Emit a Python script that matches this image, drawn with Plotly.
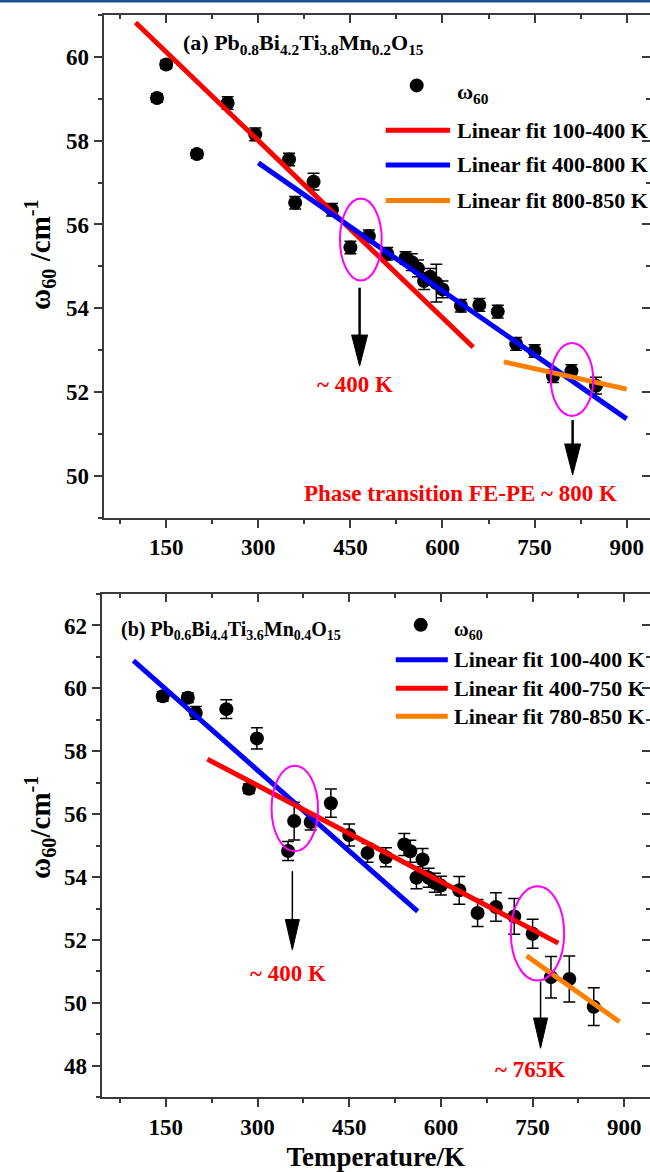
import plotly.graph_objects as go

# ---------------- data: panel (a) ----------------
temp_a = [135, 150, 200, 250, 295, 350, 360, 390, 420, 450, 480, 510, 540, 550, 560, 570,
          580, 590, 600, 630, 660, 690, 720, 750, 780, 810, 850]
omega_a = [59.02, 59.82, 57.68, 58.90, 58.15, 57.55, 56.52, 57.02, 56.35, 55.45, 55.72, 55.30,
           55.20, 55.10, 54.95, 54.65, 54.75, 54.60, 54.45, 54.06, 54.08, 53.92, 53.15, 52.98,
           52.38, 52.50, 52.15]
err_a = [0.1, 0.1, 0.1, 0.15, 0.15, 0.15, 0.15, 0.2, 0.15, 0.15, 0.15, 0.15, 0.15, 0.2, 0.2, 0.2,
         0.2, 0.45, 0.2, 0.15, 0.15, 0.15, 0.15, 0.15, 0.15, 0.15, 0.2]
fit_a_100_400_T = [100, 650]
fit_a_100_400_W = [60.82, 53.07]
fit_a_400_800_T = [300, 900]
fit_a_400_800_W = [57.47, 51.36]
fit_a_800_850_T = [700, 900]
fit_a_800_850_W = [52.72, 52.07]

# ---------------- data: panel (b) ----------------
temp_b = [145, 186, 199, 249, 286, 299, 350, 360, 387, 420, 450, 480, 510, 540, 550, 560, 570,
          580, 590, 600, 630, 660, 690, 720, 750, 780, 810, 850]
omega_b = [59.75, 59.70, 59.22, 59.34, 56.81, 58.41, 54.83, 55.78, 55.75, 56.35, 55.34, 54.77,
           54.63, 55.04, 54.82, 53.98, 54.56, 53.98, 53.82, 53.73, 53.58, 52.86, 53.05, 52.75,
           52.20, 50.82, 50.76, 49.88]
err_b = [0.15, 0.15, 0.2, 0.3, 0.15, 0.34, 0.3, 0.6, 0.25, 0.45, 0.35, 0.3, 0.3, 0.35, 0.35, 0.35,
         0.35, 0.3, 0.3, 0.3, 0.44, 0.43, 0.45, 0.57, 0.46, 0.66, 0.73, 0.6]
fit_b_100_400_T = [97, 562]
fit_b_100_400_W = [60.88, 52.91]
fit_b_400_750_T = [218, 792]
fit_b_400_750_W = [57.75, 51.90]
fit_b_780_850_T = [740, 892]
fit_b_780_850_W = [51.50, 49.40]

x_ticks = [150, 300, 450, 600, 750, 900]
y_ticks_a = [50, 52, 54, 56, 58, 60]
y_ticks_b = [48, 50, 52, 54, 56, 58, 60, 62]

RED = "#ff0000"
BLUE = "#0000ff"
ORANGE = "#ff8000"
MAG = "#ff00ff"
AX = "#3a3a3a"
FONT = "Liberation Serif"

W, H = 650, 1172

fig = go.Figure()

def add_panel(T, Wv, E, xa, ya, fits):
    fig.add_trace(go.Scatter(
        x=T, y=Wv, mode="markers", xaxis=xa, yaxis=ya, showlegend=False,
        marker=dict(color="black", size=14),
        error_y=dict(type="data", array=E, color="black", thickness=1.5, width=6)))
    for fx, fy, col in fits:
        fig.add_trace(go.Scatter(
            x=fx, y=fy, mode="lines", xaxis=xa, yaxis=ya, showlegend=False,
            line=dict(color=col, width=5)))

add_panel(temp_a, omega_a, err_a, "x", "y",
          [(fit_a_100_400_T, fit_a_100_400_W, RED),
           (fit_a_400_800_T, fit_a_400_800_W, BLUE),
           (fit_a_800_850_T, fit_a_800_850_W, ORANGE)])
add_panel(temp_b, omega_b, err_b, "x2", "y2",
          [(fit_b_100_400_T, fit_b_100_400_W, BLUE),
           (fit_b_400_750_T, fit_b_400_750_W, RED),
           (fit_b_780_850_T, fit_b_780_850_W, ORANGE)])

# pixel geometry of the two panels
dom_a_x = [103.6 / W, 1.0]
dom_a_y = [1 - 517.7 / H, 1 - 15 / H]
dom_b_x = [101.6 / W, 1.0]
dom_b_y = [1 - 1097.3 / H, 1 - 594 / H]
rng_a_x = [48, 938]
rng_a_y = [49, 61]
rng_b_x = [45, 942]
rng_b_y = [47, 63]

def xax(dom, rng, anchor, labels=True, side="bottom", ticks="outside", overlay=None):
    d = dict(domain=dom, range=rng, anchor=anchor, side=side,
             tickmode="array", tickvals=x_ticks, showticklabels=labels,
             ticks=ticks, ticklen=8, tickwidth=1.5, tickcolor=AX,
             showline=True, linecolor=AX, linewidth=2, showgrid=False, zeroline=False,
             minor=dict(tickmode="linear", tick0=0, dtick=75, ticks=ticks, ticklen=4,
                        tickwidth=1.5, tickcolor=AX, showgrid=False),
             tickfont=dict(size=23, color="black"), fixedrange=True)
    if overlay:
        d["overlaying"] = overlay
    return d

def yax(dom, rng, anchor, tv, labels=True, side="left", ticks="outside", overlay=None):
    d = dict(domain=dom, range=rng, anchor=anchor, side=side,
             tickmode="array", tickvals=tv, showticklabels=labels,
             ticks=ticks, ticklen=8, tickwidth=1.5, tickcolor=AX,
             showline=True, linecolor=AX, linewidth=2, showgrid=False, zeroline=False,
             minor=dict(tickmode="linear", tick0=0, dtick=1, ticks=ticks, ticklen=4,
                        tickwidth=1.5, tickcolor=AX, showgrid=False),
             tickfont=dict(size=23, color="black"), fixedrange=True)
    if overlay:
        d["overlaying"] = overlay
    return d

fig.update_layout(
    width=W, height=H, margin=dict(l=0, r=0, t=0, b=0),
    paper_bgcolor="white", plot_bgcolor="white", showlegend=False,
    font=dict(family=FONT, color="black", size=22, weight="bold"),
    xaxis=xax(dom_a_x, rng_a_x, "y"),
    yaxis=yax(dom_a_y, rng_a_y, "x", y_ticks_a),
    xaxis2=xax(dom_b_x, rng_b_x, "y2"),
    yaxis2=yax(dom_b_y, rng_b_y, "x2", y_ticks_b),
    xaxis3=xax(dom_a_x, rng_a_x, "y", labels=False, side="top", ticks="inside", overlay="x"),
    yaxis3=yax(dom_a_y, rng_a_y, "x", y_ticks_a, labels=False, side="right", ticks="inside", overlay="y"),
    xaxis4=xax(dom_b_x, rng_b_x, "y2", labels=False, side="top", ticks="inside", overlay="x2"),
    yaxis4=yax(dom_b_y, rng_b_y, "x2", y_ticks_b, labels=False, side="right", ticks="inside", overlay="y2"),
)
fig.layout.xaxis2.title = dict(text="Temperature/K", font=dict(size=27), standoff=8)

# invisible anchors so the mirrored frame axes are drawn
fig.add_trace(go.Scatter(x=[None], y=[None], xaxis="x3", yaxis="y3", showlegend=False, hoverinfo="skip"))
fig.add_trace(go.Scatter(x=[None], y=[None], xaxis="x4", yaxis="y4", showlegend=False, hoverinfo="skip"))

shapes = []
annots = []

def ellipse(xr, yr, cx, cy, hx, hy):
    shapes.append(dict(type="circle", xref=xr, yref=yr, x0=cx - hx, x1=cx + hx,
                       y0=cy - hy, y1=cy + hy, line=dict(color=MAG, width=2), layer="above"))

def arrow(xr, yr, x, y0, ytip, head_len, half_w, lw):
    base = ytip + head_len
    shapes.append(dict(type="line", xref=xr, yref=yr, x0=x, x1=x, y0=y0, y1=base,
                       line=dict(color="black", width=lw), layer="above"))
    shapes.append(dict(type="path", xref=xr, yref=yr,
                       path=f"M {x - half_w},{base} L {x + half_w},{base} L {x},{ytip} Z",
                       fillcolor="black", line=dict(color="black", width=1), layer="above"))

def text(xr, yr, x, y, s, size, color="black", xanchor="center"):
    annots.append(dict(xref=xr, yref=yr, x=x, y=y, text=s, showarrow=False,
                       xanchor=xanchor, yanchor="middle",
                       font=dict(size=size, color=color, family=FONT, weight="bold")))

def leg_line(xr, yr, x0, x1, y, col):
    shapes.append(dict(type="line", xref=xr, yref=yr, x0=x0, x1=x1, y0=y, y1=y,
                       line=dict(color=col, width=5), layer="above"))

def leg_dot(xr, yr, x, y):
    shapes.append(dict(type="circle", xref=xr, yref=yr, xsizemode="pixel", ysizemode="pixel",
                       xanchor=x, yanchor=y, x0=-7, x1=7, y0=-7, y1=7,
                       fillcolor="black", line=dict(color="black", width=0), layer="above"))

# ---- panel (a) decorations ----
ellipse("x", "y", 467, 55.64, 34, 0.98)
ellipse("x", "y", 811, 52.30, 34.5, 0.87)
arrow("x", "y", 465, 54.49, 52.62, 0.74, 13, 2.5)
arrow("x", "y", 812, 51.33, 50.02, 0.74, 13, 2.5)
text("x", "y", 457, 52.17, "~ 400 K", 23, RED)
text("x", "y", 630, 49.58, "Phase transition FE-PE ~ 800 K", 23, RED)
text("x", "y", 174, 60.3,
     "(a) Pb<sub>0.8</sub>Bi<sub>4.2</sub>Ti<sub>3.8</sub>Mn<sub>0.2</sub>O<sub>15</sub>",
     22, xanchor="left")
leg_dot("x", "y", 558, 59.32)
text("x", "y", 620.5, 59.15, "ω<sub>60</sub>", 22, xanchor="left")
leg_line("x", "y", 507.5, 612.3, 58.25, RED)
leg_line("x", "y", 507.5, 612.3, 57.42, BLUE)
leg_line("x", "y", 507.5, 612.3, 56.57, ORANGE)
text("x", "y", 620.5, 58.25, "Linear fit 100-400 K", 22, xanchor="left")
text("x", "y", 620.5, 57.42, "Linear fit 400-800 K", 22, xanchor="left")
text("x", "y", 620.5, 56.57, "Linear fit 800-850 K", 22, xanchor="left")

# ---- panel (b) decorations ----
ellipse("x2", "y2", 361, 56.18, 38, 1.36)
ellipse("x2", "y2", 758, 52.21, 43.6, 1.5)
arrow("x2", "y2", 357, 54.19, 51.69, 0.96, 11.5, 1.5)
arrow("x2", "y2", 763, 50.68, 48.56, 0.96, 11.5, 1.5)
text("x2", "y2", 350, 50.95, "~ 400 K", 23, RED)
text("x2", "y2", 746, 47.89, "~ 765K", 23, RED)
text("x2", "y2", 74, 61.85,
     "(b) Pb<sub>0.6</sub>Bi<sub>4.4</sub>Ti<sub>3.6</sub>Mn<sub>0.4</sub>O<sub>15</sub>",
     20, xanchor="left")
leg_dot("x2", "y2", 567, 62.02)
text("x2", "y2", 618, 61.85, "ω<sub>60</sub>", 20, xanchor="left")
leg_line("x2", "y2", 526.2, 611.3, 60.91, BLUE)
leg_line("x2", "y2", 526.2, 611.3, 60.0, RED)
leg_line("x2", "y2", 526.2, 611.3, 59.11, ORANGE)
text("x2", "y2", 618, 60.91, "Linear fit 100-400 K", 22, xanchor="left")
text("x2", "y2", 618, 60.0, "Linear fit 400-750 K", 22, xanchor="left")
text("x2", "y2", 618, 59.11, "Linear fit 780-850 K", 22, xanchor="left")

# ---- y-axis titles ----
annots.append(dict(xref="paper", yref="paper", x=40 / W, y=1 - 255 / H,
                   text="ω<sub>60</sub> /cm<sup>-1</sup>", textangle=-90, showarrow=False,
                   xanchor="center", yanchor="middle",
                   font=dict(size=29, family=FONT, weight="bold", color="black")))
annots.append(dict(xref="paper", yref="paper", x=40 / W, y=1 - 828 / H,
                   text="ω<sub>60</sub>/cm<sup>-1</sup>", textangle=-90, showarrow=False,
                   xanchor="center", yanchor="middle",
                   font=dict(size=29, family=FONT, weight="bold", color="black")))

# page border line at the very top
shapes.append(dict(type="line", xref="paper", yref="paper", x0=0, x1=1, y0=1 - 1 / H, y1=1 - 1 / H,
                   line=dict(color="#1d4f91", width=3)))

fig.update_layout(shapes=shapes, annotations=annots)

fig.write_html("out.html")
